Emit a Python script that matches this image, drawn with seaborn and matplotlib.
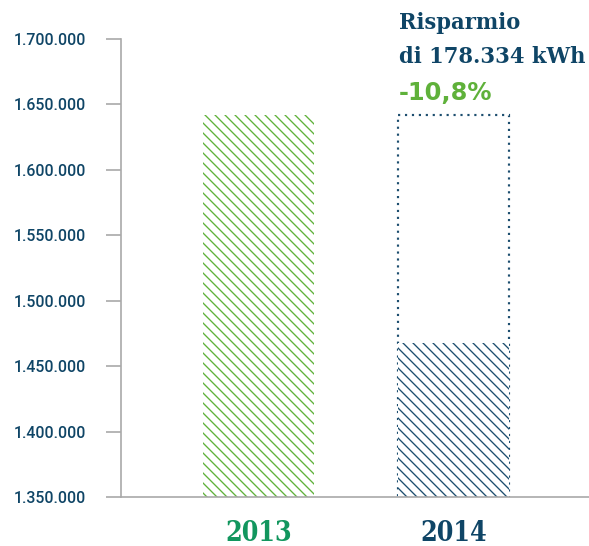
import numpy as np
import pandas as pd
import matplotlib
matplotlib.use("Agg")
import matplotlib.pyplot as plt
import seaborn as sns
from matplotlib.ticker import FuncFormatter

# data
years = ["2013", "2014"]
consumption_kwh = [1642000, 1467500]
y_ticks = [1350000, 1400000, 1450000, 1500000, 1550000, 1600000, 1650000, 1700000]
saving_label = "Risparmio\ndi 178.334 kWh"
saving_pct = "-10,8%"

NAVY = "#0f4566"
HATCH_NAVY = "#1d4e6f"
LIGHT_GREEN = "#5fb13a"
YEAR_GREEN = "#12965e"
SPINE_GREY = "#a9a9a9"

sns.set_style("white")
plt.rcParams["hatch.linewidth"] = 0.8

DPI = 120
fig = plt.figure(figsize=(589 / DPI, 546 / DPI), dpi=DPI)
ax = fig.add_axes([0.2054, 0.0897, 0.7946, 0.8394])

df = pd.DataFrame({"year": years, "kwh": consumption_kwh})

# dotted outline of the 2013 level over the 2014 bar
ax.bar(years.index("2014"), consumption_kwh[0], width=0.57,
       fill=False, edgecolor=HATCH_NAVY, linewidth=1.3,
       linestyle=(0, (1, 2.2)), zorder=1)

sns.barplot(data=df, x="year", y="kwh", width=0.57, ax=ax,
            hatch="\\\\\\\\", zorder=2)
for patch, col in zip(ax.patches[1:], [LIGHT_GREEN, HATCH_NAVY]):
    patch.set_facecolor("white")
    patch.set_edgecolor(col)
    patch.set_linewidth(0)

ax.set_ylim(y_ticks[0], y_ticks[-1])
ax.set_xlim(-0.705, 1.695)
ax.set_yticks(y_ticks)
ax.yaxis.set_major_formatter(
    FuncFormatter(lambda v, _: f"{v:,.0f}".replace(",", ".")))

for side in ["top", "right"]:
    ax.spines[side].set_visible(False)
for side in ["left", "bottom"]:
    ax.spines[side].set_color(SPINE_GREY)
    ax.spines[side].set_linewidth(1.0)

ax.tick_params(axis="y", length=9, width=1.0, color=SPINE_GREY,
               pad=12, left=True, labelsize=9.5, labelcolor=NAVY)
for lab in ax.get_yticklabels():
    lab.set_family("Roboto")
    lab.set_fontweight("medium")

ax.tick_params(axis="x", length=0, pad=14, labelsize=16)
for lab, col in zip(ax.get_xticklabels(), [YEAR_GREEN, NAVY]):
    lab.set_family("DejaVu Serif")
    lab.set_fontweight("bold")
    lab.set_fontstretch("condensed")
    lab.set_color(col)

ax.set_xlabel("")
ax.set_ylabel("")

# saving annotation
ax.text(0.594, 0.947, saving_label, transform=ax.transAxes,
        ha="left", va="baseline", fontsize=14, fontweight="bold",
        family="DejaVu Serif", fontstretch="condensed",
        color=NAVY, linespacing=1.7)
ax.text(0.594, 0.866, saving_pct, transform=ax.transAxes,
        ha="left", va="baseline", fontsize=14.5, fontweight="bold",
        family="DejaVu Sans", color=LIGHT_GREEN)

fig.savefig("out.png", dpi=DPI)
